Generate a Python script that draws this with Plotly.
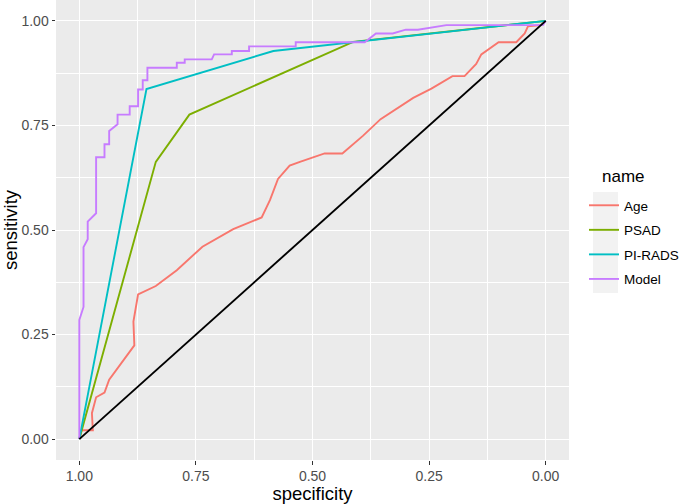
import plotly.graph_objects as go

# ---- data ----
names = ["Age", "PSAD", "PI-RADS", "Model"]
colors = ["#F8766D", "#7CAE00", "#00BFC4", "#C77CFF"]

age_spec = [1.0, 0.995, 0.971, 0.973, 0.964, 0.946, 0.936, 0.882, 0.884, 0.874, 0.836, 0.791,
            0.736, 0.670, 0.609, 0.591, 0.574, 0.549, 0.527, 0.474, 0.436, 0.392, 0.354, 0.284,
            0.245, 0.200, 0.174, 0.149, 0.138, 0.101, 0.063, 0.045, 0.038, 0.010, 0.0]
age_sens = [0.0, 0.021, 0.021, 0.062, 0.100, 0.111, 0.142, 0.224, 0.281, 0.346, 0.366, 0.404,
            0.460, 0.502, 0.530, 0.572, 0.622, 0.654, 0.663, 0.683, 0.683, 0.725, 0.765, 0.816,
            0.838, 0.868, 0.868, 0.897, 0.920, 0.949, 0.949, 0.970, 0.987, 0.990, 1.0]

psad_spec = [1.0, 0.836, 0.764, 0.413, 0.0]
psad_sens = [0.0, 0.663, 0.776, 0.950, 1.0]

pirads_spec = [1.0, 0.856, 0.584, 0.0]
pirads_sens = [0.0, 0.837, 0.928, 1.0]

model_spec = [1.0, 1.0, 0.991, 0.991, 0.982, 0.982, 0.964, 0.964, 0.946, 0.946, 0.936, 0.936,
              0.918, 0.918, 0.892, 0.892, 0.874, 0.874, 0.864, 0.864, 0.854, 0.854, 0.791, 0.791,
              0.774, 0.774, 0.716, 0.711, 0.673, 0.673, 0.636, 0.636, 0.536, 0.536, 0.388, 0.364,
              0.328, 0.300, 0.274, 0.213, 0.006, 0.0]
model_sens = [0.0, 0.285, 0.316, 0.459, 0.478, 0.520, 0.540, 0.674, 0.674, 0.705, 0.705, 0.737,
              0.753, 0.776, 0.776, 0.796, 0.796, 0.836, 0.836, 0.858, 0.858, 0.888, 0.888, 0.900,
              0.900, 0.908, 0.908, 0.920, 0.920, 0.928, 0.928, 0.939, 0.939, 0.949, 0.949, 0.970,
              0.970, 0.979, 0.979, 0.990, 0.990, 1.0]

ref_spec = [1.0, 0.0]
ref_sens = [0.0, 1.0]

tick_vals = [0.0, 0.25, 0.5, 0.75, 1.0]
tick_text = ["0.00", "0.25", "0.50", "0.75", "1.00"]

series = [(age_spec, age_sens), (psad_spec, psad_sens), (pirads_spec, pirads_sens), (model_spec, model_sens)]

FONT = "Liberation Sans, Arial, Helvetica, sans-serif"

fig = go.Figure()
for nm, col, (sx, sy) in zip(names, colors, series):
    fig.add_trace(go.Scatter(x=sx, y=sy, mode="lines", name=nm, legendgroup=nm,
                             line=dict(color=col, width=1.9)))
fig.add_trace(go.Scatter(x=ref_spec, y=ref_sens, mode="lines", showlegend=False,
                         line=dict(color="black", width=1.9)))

axis_common = dict(
    tickvals=tick_vals, ticktext=tick_text,
    showgrid=True, gridcolor="white", gridwidth=1.1,
    minor=dict(dtick=0.125, tick0=0, showgrid=True, gridcolor="white", gridwidth=0.5, ticks=""),
    zeroline=False, showline=False, automargin=False,
    ticks="outside", ticklen=3.5, tickwidth=1.1, tickcolor="#333333",
    tickfont=dict(family=FONT, size=14, color="#4D4D4D"),
    title_font=dict(family=FONT, size=18.5, color="black"),
)

fig.update_xaxes(range=[1.05, -0.05], title_text="specificity", title_standoff=2, **axis_common)
fig.update_yaxes(range=[-0.05, 1.05], title_text="sensitivity", title_standoff=1, **axis_common)

L, R, B, H = 56, 569, 460, 460  # panel pixel edges used to place legend decorations
# grey background behind legend keys
fig.add_shape(type="rect", xref="paper", yref="paper",
              x0=(593 - L) / (R - L), x1=(618 - L) / (R - L),
              y0=(B - 293) / H, y1=(B - 192) / H,
              fillcolor="#F2F2F2", line=dict(width=0), layer="below")
fig.add_annotation(text="name", xref="paper", yref="paper",
                   x=(600 - L) / (R - L), y=(B - 176) / H, xanchor="left", yanchor="middle",
                   showarrow=False, font=dict(family=FONT, size=17, color="black"))

fig.update_layout(
    width=685, height=504,
    margin=dict(l=L, r=685 - R, t=0, b=504 - B, autoexpand=False),
    plot_bgcolor="#EBEBEB", paper_bgcolor="white",
    legend=dict(x=(584 - L) / (R - L), y=(B - 242.5) / H, xanchor="left", yanchor="middle",
                font=dict(family=FONT, size=13.5, color="black"),
                tracegroupgap=4, bgcolor="rgba(0,0,0,0)", itemwidth=30),
    showlegend=True,
)

fig.write_html("out.html", config={"displayModeBar": False},
               post_script="document.body.style.margin='0px';")
